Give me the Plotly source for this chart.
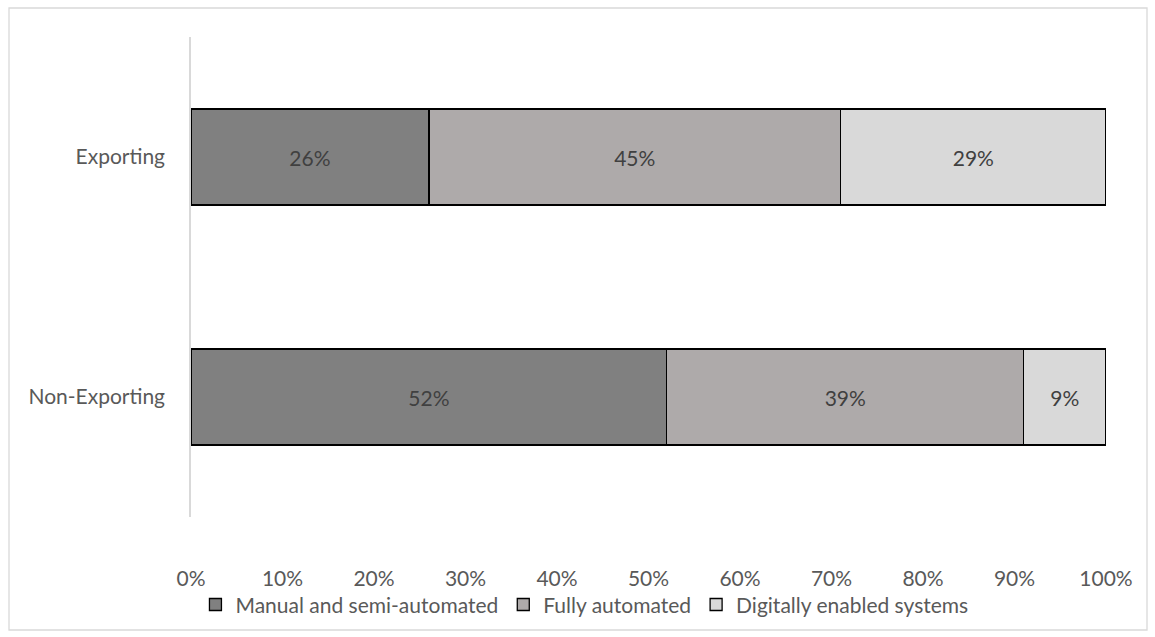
import plotly.graph_objects as go

categories = ["Exporting", "Non-Exporting"]
series_names = ["Manual and semi-automated", "Fully automated", "Digitally enabled systems"]
manual = [26, 52]
fully = [45, 39]
digital = [29, 9]
series_values = [manual, fully, digital]
colors = ["#808080", "#AEAAAA", "#D9D9D9"]
x_ticks = [0, 10, 20, 30, 40, 50, 60, 70, 80, 90, 100]
x_tick_labels = [f"{v}%" for v in x_ticks]

FONT = "Lato, 'Noto Sans', sans-serif"
FS = 21

fig = go.Figure()
for name, vals, col in zip(series_names, series_values, colors):
    fig.add_trace(go.Bar(
        y=categories, x=vals, name=name, orientation="h",
        marker=dict(color=col, line=dict(color="#000000", width=1.3)),
        text=[f"{v}%" for v in vals], textposition="inside",
        insidetextanchor="middle",
        textfont=dict(family=FONT, size=FS, color="#404040"),
        width=0.4,
    ))

fig.update_layout(
    barmode="stack",
    width=1155, height=637,
    margin=dict(l=191, r=49, t=37, b=120),
    paper_bgcolor="white", plot_bgcolor="white",
    font=dict(family=FONT, size=FS, color="#595959"),
    showlegend=True,
    legend=dict(orientation="h", x=0.43, xanchor="center", y=-0.183, yanchor="middle",
                bgcolor="rgba(0,0,0,0)",
                font=dict(family=FONT, size=FS, color="#595959"),
                traceorder="normal", itemwidth=30),
    uniformtext=dict(mode="show", minsize=10),
)
fig.update_xaxes(range=[0, 100], tickvals=x_ticks, ticktext=x_tick_labels,
                 showgrid=False, zeroline=False, showline=False,
                 ticks="", ticklabelstandoff=47,
                 tickfont=dict(family=FONT, size=FS, color="#595959"))
fig.update_yaxes(categoryorder="array", categoryarray=categories, autorange="reversed",
                 showgrid=False, zeroline=False, showline=True, linecolor="#D9D9D9", linewidth=1.5,
                 ticks="", ticklabelstandoff=20,
                 tickfont=dict(family=FONT, size=FS, color="#595959"))

fig.add_shape(type="rect", xref="paper", yref="paper",
              x0=-0.1989, x1=1.0448, y0=-0.2354, y1=1.0604,
              line=dict(color="#D9D9D9", width=1.3), fillcolor="rgba(0,0,0,0)", layer="below")

fig.write_html("out.html")
